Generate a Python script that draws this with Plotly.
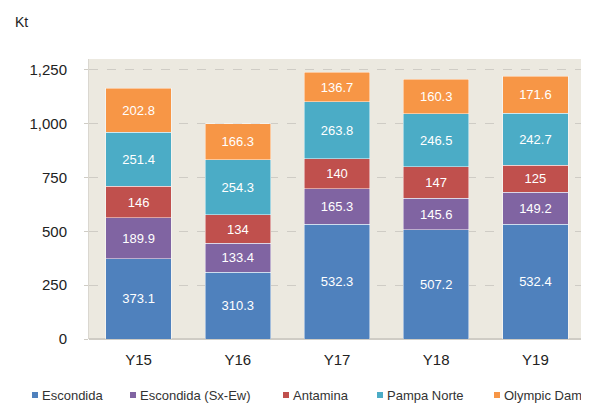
import plotly.graph_objects as go

years = ["Y15", "Y16", "Y17", "Y18", "Y19"]
escondida = [373.1, 310.3, 532.3, 507.2, 532.4]
escondida_sxew = [189.9, 133.4, 165.3, 145.6, 149.2]
antamina = [146, 134, 140, 147, 125]
pampa_norte = [251.4, 254.3, 263.8, 246.5, 242.7]
olympic_dam = [202.8, 166.3, 136.7, 160.3, 171.6]

series = [
    ("Escondida", escondida, "#4F81BD"),
    ("Escondida (Sx-Ew)", escondida_sxew, "#8064A2"),
    ("Antamina", antamina, "#C0504D"),
    ("Pampa Norte", pampa_norte, "#4BACC6"),
    ("Olympic Dam", olympic_dam, "#F79646"),
]

FONT = "Liberation Sans, Arial"
W, H = 581, 395
ML, MR, MT, MB = 81, 4, 51, 64
PW, PH = W - ML - MR, H - MT - MB


def px2paper(fx, fy):
    return (fx - ML) / PW, (H - MB - fy) / PH


fig = go.Figure()
for name, vals, color in series:
    fig.add_trace(go.Bar(
        x=years, y=vals, name=name, showlegend=False,
        marker=dict(color=color, line=dict(color="rgba(255,255,255,0.6)", width=0.8)),
        text=[f"{v:g}" for v in vals],
        textposition="inside", insidetextanchor="middle",
        textfont=dict(color="white", size=13, family=FONT),
        constraintext="none",
    ))

# manual compact legend (square swatch + label)
legend_sq_x = [32, 130, 283, 377, 494]   # left edge of swatches (page px)
shapes, annotations = [], []
for (name, vals, color), sx in zip(series, legend_sq_x):
    fx = sx - 8
    x0, y0 = px2paper(fx, 387 + 3)
    x1, y1 = px2paper(fx + 6, 387 - 3)
    shapes.append(dict(type="rect", xref="paper", yref="paper", x0=x0, x1=x1,
                       y0=y0, y1=y1, fillcolor=color, line=dict(width=0)))
    tx, ty = px2paper(fx + 8, 387)
    annotations.append(dict(text=name, xref="paper", yref="paper", x=tx, y=ty,
                            xanchor="left", yanchor="middle", showarrow=False,
                            font=dict(size=13, color="#333333", family=FONT)))

kx, ky = px2paper(5, 14)
annotations.append(dict(text="Kt", xref="paper", yref="paper", x=kx, y=ky,
                        xanchor="left", yanchor="middle", showarrow=False,
                        font=dict(size=14, color="#222222", family=FONT)))

fig.update_layout(
    barmode="stack",
    bargap=0.34,
    width=W, height=H,
    margin=dict(l=ML, r=MR, t=MT, b=MB, autoexpand=False),
    paper_bgcolor="white",
    plot_bgcolor="#ECE9E0",
    font=dict(family=FONT, size=15, color="#222222"),
    showlegend=False,
    xaxis=dict(showline=False, ticks="", tickfont=dict(size=15),
               ticklabelstandoff=10),
    yaxis=dict(range=[0, 1300], tickvals=[0, 250, 500, 750, 1000, 1250],
               tickformat=",", showgrid=True, gridcolor="#CFCCC5", griddash="dash",
               gridwidth=1, zeroline=True, zerolinecolor="#CFCCC5",
               showline=True, linecolor="#DAD7D0", linewidth=1,
               ticks="outside", ticklen=4, tickcolor="#CFCCC5",
               ticklabelstandoff=14, tickfont=dict(size=15)),
    shapes=shapes,
    annotations=annotations,
)

fig.write_html("out.html")
